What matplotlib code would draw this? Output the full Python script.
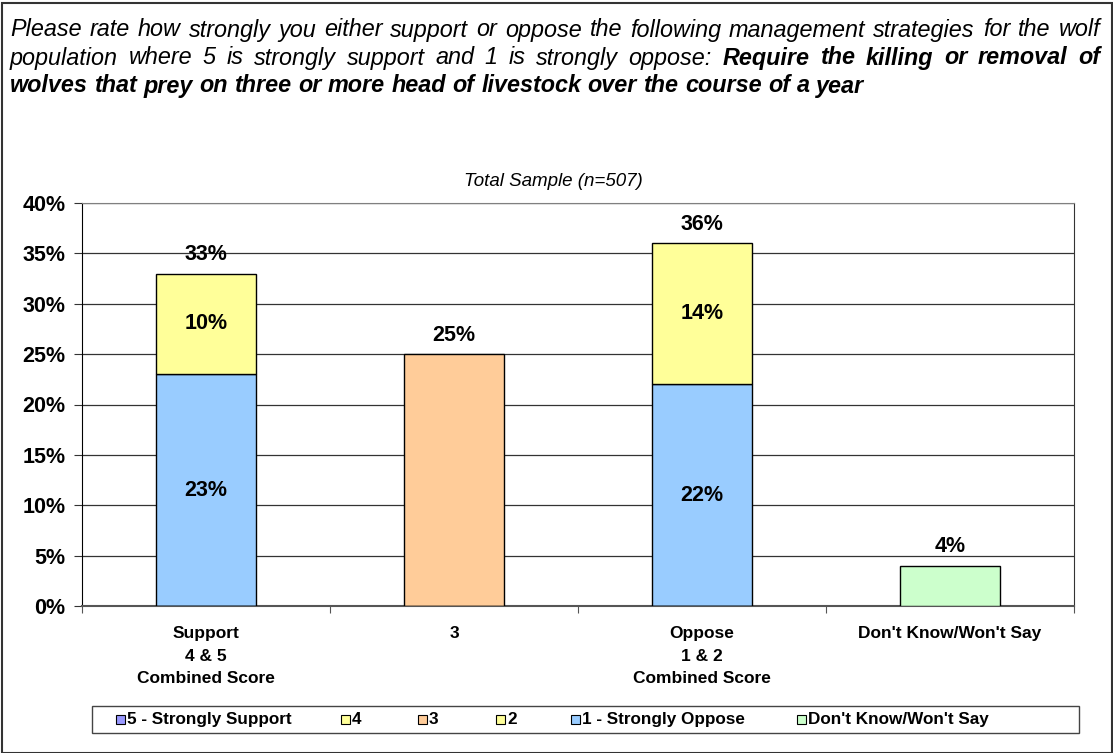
import matplotlib
matplotlib.use('Agg')
import matplotlib.pyplot as plt
from matplotlib.patches import Rectangle
import numpy as np

# ---- data ----
categories = ['Support\n4 & 5\nCombined Score', '3',
              'Oppose\n1 & 2\nCombined Score', "Don't Know/Won't Say"]
strong_vals = [23, 0, 22, 0]      # bottom segments (5 / 1)
moderate_vals = [10, 0, 14, 0]    # top segments (4 / 2)
neutral_vals = [0, 25, 0, 0]      # 3
dk_vals = [0, 0, 0, 4]            # don't know
totals = [33, 25, 36, 4]
legend_labels = ['5 - Strongly Support', '4', '3', '2',
                 '1 - Strongly Oppose', "Don't Know/Won't Say"]

BLUE = '#99CCFF'
YELLOW = '#FFFF99'
PEACH = '#FFCC99'
GREEN = '#CCFFCC'
PURPLE = '#9999FF'
legend_colors = [PURPLE, YELLOW, PEACH, YELLOW, BLUE, GREEN]

plt.rcParams['font.family'] = ['Liberation Sans', 'DejaVu Sans']

W, H = 1113, 753
fig = plt.figure(figsize=(W / 100, H / 100), dpi=100)
renderer = fig.canvas.get_renderer()

# outer border
fig.patches.append(Rectangle((2 / W, 0), 1 - 3 / W, 1 - 3 / H, transform=fig.transFigure,
                             fill=False, edgecolor='#333333', linewidth=1.5))

# ---- title with justified lines ----
TSIZE = 16.8


def word_width(word, weight):
    t = fig.text(0, 0, word, fontsize=TSIZE, style='italic', fontweight=weight)
    w = t.get_window_extent(renderer).width
    t.remove()
    return w


def draw_line(words, y, x0, x1, justify):
    widths = [word_width(w, wt) for w, wt in words]
    if justify:
        gap = (x1 - x0 - sum(widths)) / (len(words) - 1)
    else:
        gap = word_width('a b', 'normal') - word_width('ab', 'normal')
    x = x0
    for (w, wt), ww in zip(words, widths):
        fig.text(x / W, 1 - y / H, w, fontsize=TSIZE, style='italic',
                 fontweight=wt, va='center', ha='left')
        x += ww + gap


line1 = 'Please rate how strongly you either support or oppose the following management strategies for the wolf'
line2a = 'population where 5 is strongly support and 1 is strongly oppose:'
line2b = 'Require the killing or removal of'
line3 = 'wolves that prey on three or more head of livestock over the course of a year'

draw_line([(w, 'normal') for w in line1.split()], 30, 10, 1100, True)
draw_line([(w, 'normal') for w in line2a.split()] + [(w, 'bold') for w in line2b.split()],
          58, 10, 1100, True)
draw_line([(w, 'bold') for w in line3.split()], 86, 10, 1100, False)

fig.text(553 / W, 1 - 181 / H, 'Total Sample (n=507)', fontsize=13.5, style='italic',
         ha='center', va='center')

# ---- axes ----
ax = fig.add_axes([82 / W, 1 - 606 / H, (1074 - 82) / W, (606 - 203) / H])
x = np.arange(len(categories))
bw = 0.405

ax.bar(x, strong_vals, bw, color=BLUE, edgecolor='black', linewidth=1, zorder=3)
ax.bar(x, moderate_vals, bw, bottom=strong_vals, color=YELLOW, edgecolor='black',
       linewidth=1, zorder=3)
ax.bar(x, neutral_vals, bw, color=PEACH, edgecolor='black', linewidth=1, zorder=3)
ax.bar(x, dk_vals, bw, color=GREEN, edgecolor='black', linewidth=1, zorder=3)

# segment labels
for i in range(len(categories)):
    if strong_vals[i] and moderate_vals[i]:
        ax.text(x[i], strong_vals[i] / 2, f'{strong_vals[i]}%', ha='center', va='center',
                fontsize=15.5, fontweight='bold', zorder=4)
        ax.text(x[i], strong_vals[i] + moderate_vals[i] / 2, f'{moderate_vals[i]}%',
                ha='center', va='center', fontsize=15.5, fontweight='bold', zorder=4)
    ax.annotate(f'{totals[i]}%', (x[i], totals[i]), xytext=(0, 6),
                textcoords='offset points', ha='center', va='bottom',
                fontsize=15.5, fontweight='bold', zorder=4)

ax.set_xlim(-0.5, 3.5)
ax.set_ylim(0, 40)
ax.set_yticks(np.arange(0, 41, 5))
ax.set_yticklabels([f'{v}%' for v in range(0, 41, 5)], fontsize=15.5, fontweight='bold')
ax.yaxis.grid(True, color='#333333', linewidth=0.9, zorder=0)
ax.set_axisbelow(True)

# category ticks at boundaries, labels centered
ax.set_xticks(np.arange(-0.5, 4, 1))
ax.set_xticklabels([])
ax.tick_params(axis='x', direction='out', length=5, color='#555555')
ax.tick_params(axis='y', direction='out', length=6, color='#333333', pad=6)
for i, lab in enumerate(categories):
    ax.text(x[i], -2.0, lab, ha='center', va='top', fontsize=12.5, fontweight='bold',
            linespacing=1.62)

ax.spines['top'].set_color('#808080')
ax.spines['right'].set_color('#333333')
ax.spines['left'].set_color('black')
ax.spines['bottom'].set_color('#555555')
ax.spines['bottom'].set_linewidth(1.5)

# ---- legend (drawn manually) ----
fig.patches.append(Rectangle((92 / W, 1 - 733 / H), (1079 - 92) / W, 27 / H,
                             transform=fig.transFigure, fill=False,
                             edgecolor='#444444', linewidth=1))
sq_x = [116, 341, 418, 496, 571, 797]
for sx, lab, col in zip(sq_x, legend_labels, legend_colors):
    fig.patches.append(Rectangle((sx / W, 1 - 724 / H), 9 / W, 9 / H,
                                 transform=fig.transFigure, facecolor=col,
                                 edgecolor='black', linewidth=0.8))
    fig.text((sx + 11) / W, 1 - 719.5 / H, lab, fontsize=12.3, fontweight='bold',
             ha='left', va='center')

fig.savefig('out.png', dpi=100)
